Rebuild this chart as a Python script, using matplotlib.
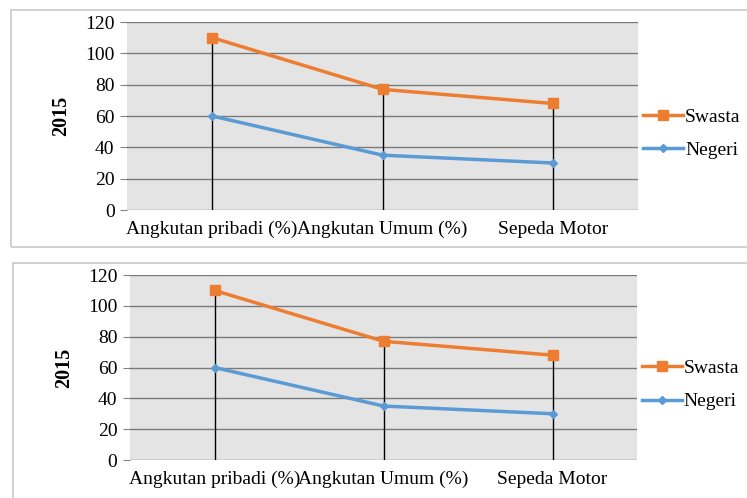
import matplotlib.pyplot as plt
from matplotlib.patches import Rectangle

kategori = ['Angkutan pribadi (%)', 'Angkutan Umum (%)', 'Sepeda Motor']
swasta = [110, 77, 68]
negeri = [60, 35, 30]
y_ticks = [0, 20, 40, 60, 80, 100, 120]
label_y = '2015'

W, H = 747, 498
plt.rcParams['font.family'] = ['Liberation Serif', 'DejaVu Serif']

fig = plt.figure(figsize=(W / 100, H / 100), dpi=100)


def px(left, top, right, bottom):
    return [left / W, 1 - bottom / H, (right - left) / W, (bottom - top) / H]


def panel(box, plot_box):
    # kotak luar grafik
    l, t, r, b = box
    fig.patches.append(Rectangle((l / W, 1 - b / H), (r - l) / W, (b - t) / H,
                                 transform=fig.transFigure, fill=False,
                                 edgecolor='#c8c8c8', lw=1.2))

    ax = fig.add_axes(px(*plot_box))
    ax.set_facecolor('#e4e4e4')
    x = list(range(len(kategori)))

    ax.vlines(x, 0, swasta, colors='black', lw=1, zorder=2)
    ax.plot(x, swasta, color='#ED7D31', lw=2.5, marker='s', markersize=7.5,
            label='Swasta', zorder=4)
    ax.plot(x, negeri, color='#5B9BD5', lw=2.5, marker='D', markersize=4.5,
            label='Negeri', zorder=3)

    ax.set_xlim(-0.5, 2.5)
    ax.set_ylim(0, 120)
    ax.set_yticks(y_ticks)
    ax.set_xticks(x)
    ax.set_xticklabels(kategori, fontsize=14)
    ax.tick_params(axis='y', labelsize=14, length=5, color='#808080', pad=4)
    ax.tick_params(axis='x', length=0, pad=8)
    ax.grid(axis='y', color='#7a7a7a', lw=1)
    ax.set_axisbelow(True)
    for s in ax.spines.values():
        s.set_visible(False)
    ax.set_ylabel(label_y, fontsize=14.5, fontweight='bold', labelpad=10)

    ax.legend(loc='upper left', bbox_to_anchor=(1.01, 0.543), frameon=False,
              fontsize=14, handlelength=2.05, handletextpad=0.1,
              labelspacing=0.8, borderpad=0, borderaxespad=0)
    return ax


panel((11, 10, 760, 247), (127, 22, 638, 210))
panel((13, 263, 760, 510), (130, 275, 637, 460))

fig.savefig('out.png', dpi=100)
